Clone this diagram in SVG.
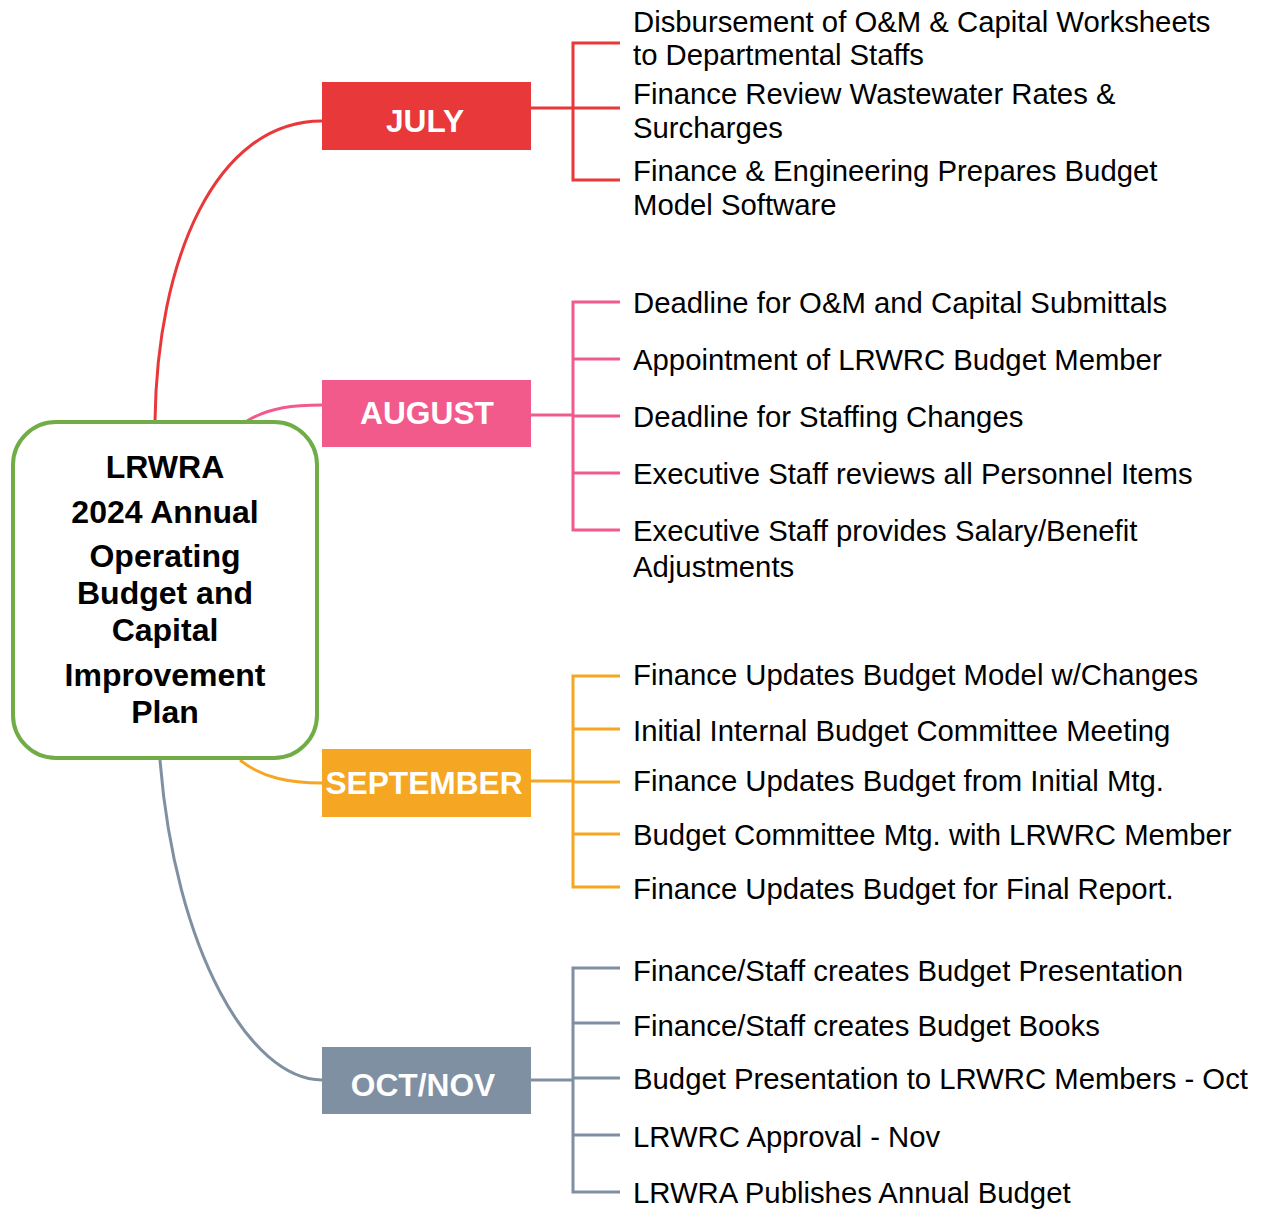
<svg xmlns="http://www.w3.org/2000/svg" width="1261" height="1210" viewBox="0 0 1261 1210">
  <style>
    .bg { fill: #ffffff; }
    .hub { fill: #ffffff; stroke: #70AD47; stroke-width: 4; }
    .hub-text { font-family: "Liberation Sans", Arial, sans-serif; font-weight: bold; font-size: 32px; fill: #000000; text-anchor: middle; }
    .month-text { font-family: "Liberation Sans", Arial, sans-serif; font-weight: bold; font-size: 31.7px; fill: #ffffff; text-anchor: middle; }
    .item { font-family: "Liberation Sans", Arial, sans-serif; font-size: 29.3px; fill: #000000; }
    .link { fill: none; stroke-width: 3; }
    .red { stroke: #E8383A; }
    .pink { stroke: #F25A8B; }
    .orange { stroke: #F5A623; }
    .gray { stroke: #7F90A2; }
  </style>

  <rect class="bg" x="0" y="0" width="1261" height="1210"/>

  <!-- connectors: hub-to-month curves and month-to-task brackets -->
  <g id="connectors">
    <path class="link red" d="M155,421 C157,260 215,121 322,121"/>
    <path class="link pink" d="M247,421 C270,407 295,405 322,405"/>
    <path class="link orange" d="M240,760 C262,778 290,783 322,783"/>
    <path class="link gray" d="M160,760 C175,950 250,1080 322,1080"/>

    <path class="link red" d="M531,108 H573 M620,43 H573 V180 H620 M573,108 H620"/>
    <path class="link pink" d="M531,415 H573 M620,302 H573 V530 H620 M573,359 H620 M573,416 H620 M573,473 H620"/>
    <path class="link orange" d="M531,781 H573 M620,676 H573 V887 H620 M573,729 H620 M573,782 H620 M573,834 H620"/>
    <path class="link gray" d="M531,1080 H573 M620,968 H573 V1192 H620 M573,1023 H620 M573,1078 H620 M573,1135 H620"/>
  </g>

  <!-- central topic -->
  <g id="hub">
    <rect class="hub" x="13" y="422" width="304" height="336" rx="43" ry="43"/>
    <text class="hub-text" x="165" y="478">LRWRA</text>
    <text class="hub-text" x="165" y="523">2024 Annual</text>
    <text class="hub-text" x="165" y="567">Operating</text>
    <text class="hub-text" x="165" y="604">Budget and</text>
    <text class="hub-text" x="165" y="641">Capital</text>
    <text class="hub-text" x="165" y="686">Improvement</text>
    <text class="hub-text" x="165" y="723">Plan</text>
  </g>

  <!-- month nodes -->
  <g id="july">
    <rect x="322" y="82" width="209" height="68" fill="#E8383A"/>
    <text class="month-text" x="425" y="132">JULY</text>
  </g>
  <g id="august">
    <rect x="322" y="380" width="209" height="67" fill="#F25A8B"/>
    <text class="month-text" x="427" y="424">AUGUST</text>
  </g>
  <g id="september">
    <rect x="322" y="749" width="209" height="68" fill="#F5A623"/>
    <text class="month-text" x="424" y="794">SEPTEMBER</text>
  </g>
  <g id="octnov">
    <rect x="322" y="1047" width="209" height="67" fill="#7F90A2"/>
    <text class="month-text" x="423" y="1096">OCT/NOV</text>
  </g>

  <!-- July tasks -->
  <g id="july-tasks">
    <text class="item" x="633" y="32">Disbursement of O&amp;M &amp; Capital Worksheets</text>
    <text class="item" x="633" y="65">to Departmental Staffs</text>
    <text class="item" x="633" y="104">Finance Review Wastewater Rates &amp;</text>
    <text class="item" x="633" y="138">Surcharges</text>
    <text class="item" x="633" y="181">Finance &amp; Engineering Prepares Budget</text>
    <text class="item" x="633" y="215">Model Software</text>
  </g>

  <!-- August tasks -->
  <g id="august-tasks">
    <text class="item" x="633" y="313">Deadline for O&amp;M and Capital Submittals</text>
    <text class="item" x="633" y="370">Appointment of LRWRC Budget Member</text>
    <text class="item" x="633" y="427">Deadline for Staffing Changes</text>
    <text class="item" x="633" y="484">Executive Staff reviews all Personnel Items</text>
    <text class="item" x="633" y="541">Executive Staff provides Salary/Benefit</text>
    <text class="item" x="633" y="577">Adjustments</text>
  </g>

  <!-- September tasks -->
  <g id="september-tasks">
    <text class="item" x="633" y="685">Finance Updates Budget Model w/Changes</text>
    <text class="item" x="633" y="741">Initial Internal Budget Committee Meeting</text>
    <text class="item" x="633" y="791">Finance Updates Budget from Initial Mtg.</text>
    <text class="item" x="633" y="845">Budget Committee Mtg. with LRWRC Member</text>
    <text class="item" x="633" y="899">Finance Updates Budget for Final Report.</text>
  </g>

  <!-- Oct/Nov tasks -->
  <g id="octnov-tasks">
    <text class="item" x="633" y="981">Finance/Staff creates Budget Presentation</text>
    <text class="item" x="633" y="1036">Finance/Staff creates Budget Books</text>
    <text class="item" x="633" y="1089">Budget Presentation to LRWRC Members - Oct</text>
    <text class="item" x="633" y="1147">LRWRC Approval - Nov</text>
    <text class="item" x="633" y="1203">LRWRA Publishes Annual Budget</text>
  </g>
</svg>
